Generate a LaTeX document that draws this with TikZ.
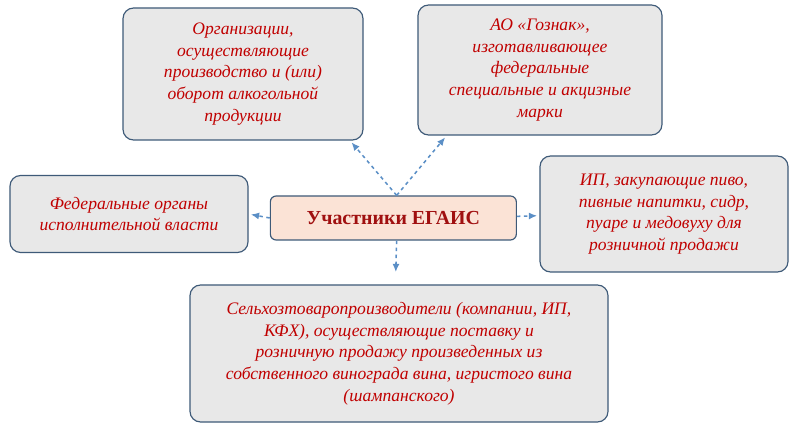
\documentclass[tikz,border=0pt]{standalone}
\usepackage{fontspec}
\setmainfont{Liberation Serif}
\usetikzlibrary{arrows.meta,positioning}
\definecolor{boxline}{HTML}{3E5A78}
\definecolor{boxfill}{HTML}{E8E8E8}
\definecolor{hubfill}{HTML}{FBE3D6}
\definecolor{txtred}{HTML}{C00000}
\definecolor{hubred}{HTML}{A01010}
\definecolor{arrowblue}{HTML}{5B8FC6}
\tikzset{
  member/.style={draw=boxline, line width=1pt, rounded corners=9pt, fill=boxfill,
    align=center, text=txtred, font=\fontsize{15}{18.5}\selectfont\itshape, inner sep=2pt},
  hub/.style={draw=boxline, line width=1pt, rounded corners=5pt, fill=hubfill,
    text=hubred, font=\fontsize{17}{20}\selectfont\bfseries,
    minimum width=7.38cm, minimum height=1.32cm},
  link/.style={arrowblue, line width=1.3pt, dashed, -{Latex[length=7pt,width=6pt]}, shorten >=2pt}
}
\begin{document}
\begin{tikzpicture}
    \useasboundingbox (0,0) rectangle (23.94,13.02);
    % central node
    \node[hub] (hub) at (11.8,6.48) {Участники ЕГАИС};
    % participants
    \node[member, minimum width=7.2cm, minimum height=3.96cm] (org) at (7.29,10.8)
      {Организации,\\осуществляющие\\производство и (или)\\оборот алкогольной\\продукции};
    \node[member, minimum width=7.32cm, minimum height=3.9cm] (goznak) at (16.2,10.92)
      {АО «Гознак»,\\изготавливающее\\федеральные\\специальные и акцизные\\марки};
    \node[member, minimum width=7.14cm, minimum height=2.31cm] (fed) at (3.87,6.6)
      {Федеральные органы\\исполнительной власти};
    \node[member, minimum width=7.44cm, minimum height=3.48cm] (ip) at (19.92,6.6)
      {ИП, закупающие пиво,\\пивные напитки, сидр,\\пуаре и медовуху для\\розничной продажи};
    \node[member, minimum width=12.54cm, minimum height=4.11cm] (agro) at (11.97,2.415)
      {Сельхозтоваропроизводители (компании, ИП,\\КФХ), осуществляющие поставку и\\розничную продажу произведенных из\\собственного винограда вина, игристого вина\\(шампанского)};
    % connectors
    \coordinate (top) at ([xshift=0.1cm]hub.north);
    \draw[link] (top) -- (org.south -| 10.5,0);
    \draw[link] (top) -- (goznak.south -| 13.4,0);
    \draw[link] (hub.west) -- (fed.east);
    \draw[link] ([yshift=0.05cm]hub.east) -- (ip.west |- 0,6.55);
    \draw[link] ([xshift=0.1cm]hub.south) -- ([xshift=-0.1cm,yshift=0.3cm]agro.north);
\end{tikzpicture}
\end{document}
